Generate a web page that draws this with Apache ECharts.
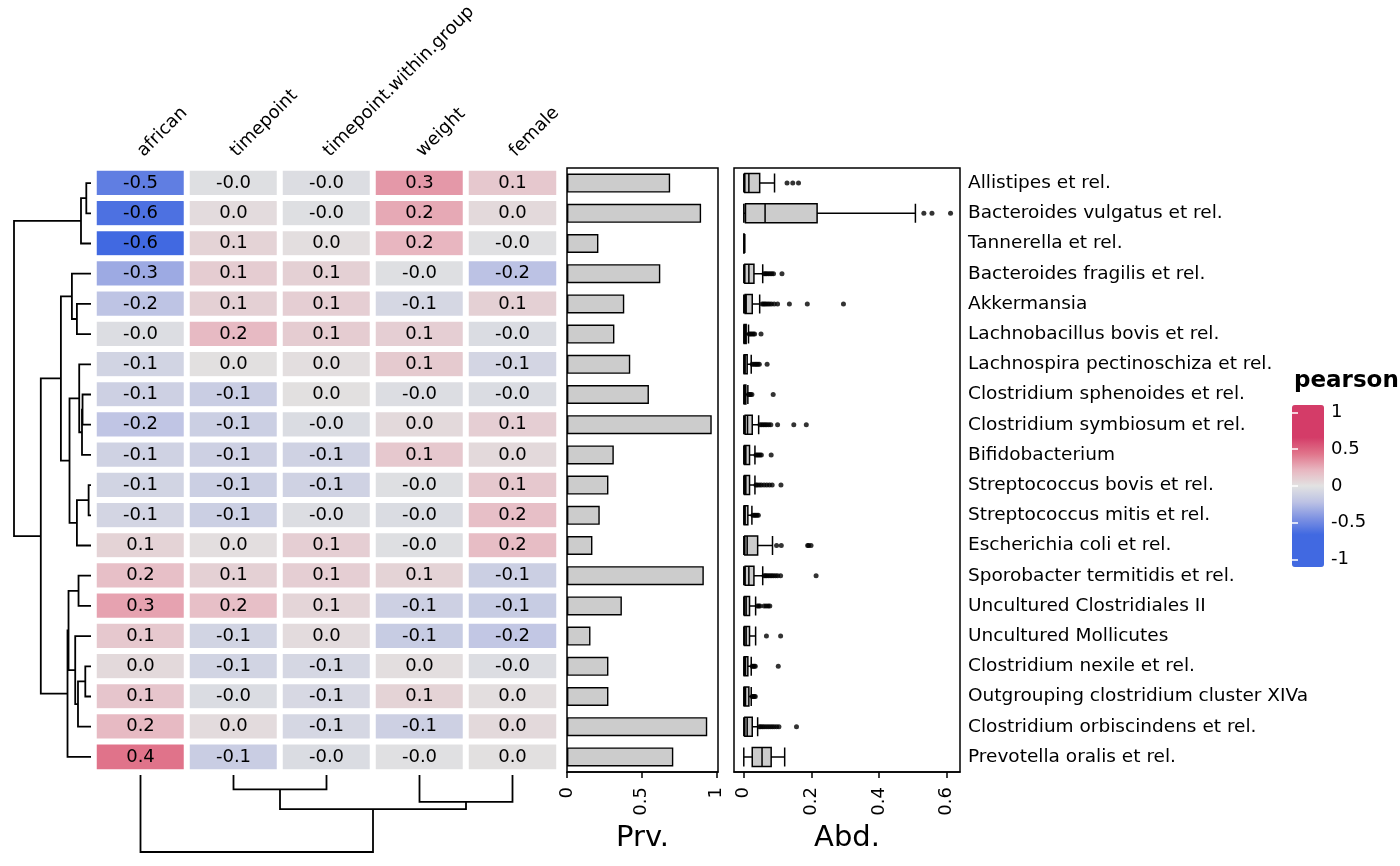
<!DOCTYPE html>
<html>
<head>
<meta charset="utf-8">
<script src="https://cdn.jsdelivr.net/npm/echarts@6/dist/echarts.min.js"></script>
<style>
html, body { margin: 0; padding: 0; background: #fff; }
#chart { width: 1400px; height: 866px; }
</style>
</head>
<body>
<div id="chart"></div>
<script>
const taxa = [
    'Allistipes et rel.', 'Bacteroides vulgatus et rel.', 'Tannerella et rel.',
    'Bacteroides fragilis et rel.', 'Akkermansia', 'Lachnobacillus bovis et rel.',
    'Lachnospira pectinoschiza et rel.', 'Clostridium sphenoides et rel.',
    'Clostridium symbiosum et rel.', 'Bifidobacterium', 'Streptococcus bovis et rel.',
    'Streptococcus mitis et rel.', 'Escherichia coli et rel.', 'Sporobacter termitidis et rel.',
    'Uncultured Clostridiales II', 'Uncultured Mollicutes', 'Clostridium nexile et rel.',
    'Outgrouping clostridium cluster XIVa', 'Clostridium orbiscindens et rel.', 'Prevotella oralis et rel.'
];
const variables = ['african', 'timepoint', 'timepoint.within.group', 'weight', 'female'];

// pearson correlations, one array per column (rows in display order)
const corAfrican   = [-0.50, -0.56, -0.62, -0.30, -0.19, -0.03, -0.09, -0.11, -0.18, -0.10, -0.09, -0.08, 0.07, 0.16, 0.26, 0.12, 0.04, 0.13, 0.18, 0.40];
const corTimepoint = [-0.02, 0.03, 0.07, 0.10, 0.08, 0.18, 0.01, -0.13, -0.12, -0.11, -0.12, -0.12, 0.02, 0.08, 0.16, -0.09, -0.09, -0.04, 0.03, -0.13];
const corTpWithin  = [-0.03, -0.02, 0.02, 0.08, 0.09, 0.10, 0.02, 0.01, -0.04, -0.10, -0.10, -0.03, 0.09, 0.09, 0.06, 0.03, -0.07, -0.06, -0.07, -0.04];
const corWeight    = [0.29, 0.24, 0.20, -0.02, -0.07, 0.09, 0.11, -0.03, 0.04, 0.12, -0.02, -0.04, -0.02, 0.07, -0.11, -0.14, 0.02, 0.07, -0.11, -0.01];
const corFemale    = [0.12, 0.04, -0.01, -0.20, 0.08, -0.04, -0.08, -0.04, 0.09, 0.04, 0.12, 0.16, 0.17, -0.12, -0.14, -0.17, -0.03, 0.02, 0.04, 0.01];

// prevalence
const prevalence = [0.69, 0.897, 0.21, 0.624, 0.383, 0.317, 0.423, 0.548, 0.968, 0.313,
    0.277, 0.219, 0.17, 0.915, 0.367, 0.157, 0.277, 0.277, 0.938, 0.711];

// abundance box statistics
const abdLow  = [0, 0, 0, 0, 0, 0, 0, 0, 0, 0, 0, 0, 0, 0, 0, 0, 0, 0, 0, 0];
const abdQ1   = [0.003, 0.005, 0, 0.003, 0.004, 0.001, 0.001, 0.001, 0.004, 0.002, 0.002, 0.001, 0.003, 0.004, 0.002, 0.002, 0.001, 0.001, 0.003, 0.025];
const abdMed  = [0.015, 0.063, 0.0005, 0.015, 0.007, 0.003, 0.004, 0.002, 0.011, 0.006, 0.006, 0.004, 0.010, 0.015, 0.007, 0.007, 0.005, 0.005, 0.010, 0.054];
const abdQ3   = [0.047, 0.217, 0.001, 0.030, 0.025, 0.007, 0.010, 0.006, 0.025, 0.017, 0.017, 0.012, 0.041, 0.030, 0.017, 0.017, 0.012, 0.015, 0.025, 0.081];
const abdHigh = [0.091, 0.508, 0.003, 0.056, 0.047, 0.014, 0.022, 0.012, 0.044, 0.033, 0.033, 0.024, 0.085, 0.056, 0.035, 0.035, 0.022, 0.022, 0.041, 0.121];
const abdOutliers = [
    [0.128, 0.145, 0.162],
    [0.533, 0.557, 0.612],
    [],
    [0.060, 0.064, 0.068, 0.073, 0.078, 0.083, 0.088, 0.113],
    [0.054, 0.058, 0.062, 0.066, 0.071, 0.076, 0.082, 0.090, 0.100, 0.135, 0.188, 0.295],
    [0.016, 0.020, 0.024, 0.028, 0.032, 0.051],
    [0.025, 0.030, 0.034, 0.038, 0.042, 0.046, 0.069],
    [0.014, 0.017, 0.020, 0.024, 0.087],
    [0.048, 0.053, 0.058, 0.063, 0.068, 0.074, 0.080, 0.100, 0.148, 0.185],
    [0.036, 0.040, 0.044, 0.048, 0.052, 0.081],
    [0.036, 0.040, 0.046, 0.052, 0.060, 0.068, 0.076, 0.084, 0.110],
    [0.027, 0.031, 0.035, 0.039, 0.043],
    [0.097, 0.111, 0.189, 0.192, 0.199],
    [0.060, 0.064, 0.068, 0.073, 0.078, 0.083, 0.088, 0.094, 0.100, 0.109, 0.214],
    [0.040, 0.044, 0.048, 0.060, 0.066, 0.072, 0.077],
    [0.067, 0.109],
    [0.025, 0.028, 0.031, 0.034, 0.102],
    [0.025, 0.028, 0.031, 0.034],
    [0.046, 0.050, 0.055, 0.060, 0.066, 0.072, 0.078, 0.084, 0.090, 0.097, 0.104, 0.156],
    []
];

// hierarchical clustering (hclust style: negative = leaf, positive = earlier merge)
const rowMerges = [[-1, -2], [1, -3], [-5, -6], [-4, 3], [-8, -9], [5, -10], [-7, 6], [-11, -12], [8, -13], [7, 9],
    [4, 10], [-14, -15], [-17, -18], [13, -19], [-16, 14], [12, 15], [16, -20], [11, 17], [2, 18]];
const rowHeights = [0.061, 0.130, 0.183, 0.248, 0.110, 0.117, 0.153, 0.031, 0.183, 0.279,
    0.391, 0.162, 0.074, 0.169, 0.205, 0.292, 0.305, 0.652, 1.0];
const colMerges = [[-2, -3], [-4, -5], [1, 2], [-1, 3]];
const colHeights = [0.186, 0.348, 0.443, 1.0];

const prvTicks = [0, 0.5, 1];
const abdTicks = [0, 0.2, 0.4, 0.6];
const legendTicks = [-1, -0.5, 0, 0.5, 1];

// colour stops for -1, -0.8, ..., 0.8, 1 (saturated beyond +-0.6)
const paletteStops = ['#4169e1', '#4169e1', '#4169e1', '#7e92e2', '#bcc2e4', '#e2e2e2',
    '#e8b6c0', '#e0738a', '#d43c68', '#d43c68', '#d43c68'];

const FONT = 'DejaVu Sans';

function buildHeatData() {
    const cols = [corAfrican, corTimepoint, corTpWithin, corWeight, corFemale];
    const out = [];
    cols.forEach((col, c) => col.forEach((v, r) => out.push([c, r, v])));
    return out;
}

function dendroSegments(merges, heights) {
    const pos = [], h = [], out = [];
    merges.forEach((m, i) => {
        const p = m.map(c => c < 0 ? -c - 1 : pos[c - 1]);
        const ch = m.map(c => c < 0 ? 0 : h[c - 1]);
        pos[i] = (p[0] + p[1]) / 2;
        h[i] = heights[i];
        out.push([heights[i], pos[i], ch[0], p[0], ch[1], p[1]]);
    });
    return out;
}

function dendroItem(vertical) {
    return function (params, api) {
        const h = api.value(0), hA = api.value(2), pA = api.value(3), hB = api.value(4), pB = api.value(5);
        const pt = (height, p) => vertical ? api.coord([p, height]) : api.coord([height, p]);
        return {
            type: 'polyline',
            shape: { points: [pt(hA, pA), pt(h, pA), pt(h, pB), pt(hB, pB)] },
            style: { stroke: '#000', lineWidth: 1.8, fill: null }
        };
    };
}

const boxData = taxa.map((t, i) => [abdLow[i], abdQ1[i], abdMed[i], abdQ3[i], abdHigh[i]]);
const outlierData = [];
abdOutliers.forEach((arr, i) => arr.forEach(v => outlierData.push([v, i])));

const tickLabel = { color: '#000', fontSize: 18, fontFamily: FONT };

const chart = echarts.init(document.getElementById('chart'));

const option = {
    animation: false,
    backgroundColor: '#fff',
    textStyle: { fontFamily: FONT },
    title: {
        text: 'pearson', left: 1294, top: 370, padding: 0,
        textStyle: { fontSize: 23, fontWeight: 'bold', color: '#000', fontFamily: FONT }
    },
    grid: [
        { left: 94, top: 168, width: 465, height: 604 },                 // heatmap
        { left: 14, top: 168, width: 77, height: 604 },                  // row dendrogram
        { left: 94, top: 775, width: 465, height: 77 },                  // column dendrogram
        { left: 567, top: 168, width: 151, height: 604, show: true, borderColor: '#000', borderWidth: 1.5 },
        { left: 734, top: 168, width: 226, height: 604, show: true, borderColor: '#000', borderWidth: 1.5 },
        { left: 1292, top: 405, width: 32, height: 162 }                 // legend ticks
    ],
    xAxis: [
        {
            gridIndex: 0, type: 'category', data: variables, position: 'top',
            axisLine: { show: false }, axisTick: { show: false },
            axisLabel: { interval: 0, rotate: -45, align: 'left', verticalAlign: 'middle', margin: 14, ...tickLabel }
        },
        { gridIndex: 1, type: 'value', min: 0, max: 1, inverse: true, show: false },
        { gridIndex: 2, type: 'value', min: -0.5, max: 4.5, show: false },
        {
            gridIndex: 3, type: 'value', min: 0, max: 1.01,
            name: 'Prv.', nameLocation: 'middle', nameGap: 49,
            nameTextStyle: { fontSize: 29, color: '#000', fontFamily: FONT },
            splitLine: { show: false },
            axisLine: { show: true, lineStyle: { color: '#000', width: 1.5 } },
            axisTick: { show: true, length: 6, customValues: prvTicks, lineStyle: { color: '#000', width: 1.5 } },
            axisLabel: { rotate: 90, margin: 15, customValues: prvTicks, formatter: v => String(v), ...tickLabel }
        },
        {
            gridIndex: 4, type: 'value', min: -0.029, max: 0.640,
            name: 'Abd.', nameLocation: 'middle', nameGap: 49,
            nameTextStyle: { fontSize: 29, color: '#000', fontFamily: FONT },
            splitLine: { show: false },
            axisLine: { show: true, lineStyle: { color: '#000', width: 1.5 } },
            axisTick: { show: true, length: 6, customValues: abdTicks, lineStyle: { color: '#000', width: 1.5 } },
            axisLabel: { rotate: 90, margin: 15, customValues: abdTicks, formatter: v => String(v), ...tickLabel }
        },
        { gridIndex: 5, type: 'value', min: 0, max: 1, show: false }
    ],
    yAxis: [
        { gridIndex: 0, type: 'category', data: taxa, inverse: true, show: false },
        { gridIndex: 1, type: 'value', min: -0.5, max: 19.5, inverse: true, show: false },
        { gridIndex: 2, type: 'value', min: 0, max: 1, inverse: true, show: false },
        { gridIndex: 3, type: 'category', data: taxa, inverse: true, show: false },
        {
            gridIndex: 4, type: 'category', data: taxa, inverse: true, position: 'right',
            axisLine: { show: false }, axisTick: { show: false },
            axisLabel: { interval: 0, margin: 8, ...tickLabel, fontSize: 18.5 }
        },
        {
            gridIndex: 5, type: 'value', min: -1.1, max: 1.1, position: 'right', z: 10,
            splitLine: { show: false }, axisLine: { show: false },
            axisTick: { show: true, inside: true, length: 6, customValues: legendTicks, lineStyle: { color: '#fff', width: 1.5 } },
            axisLabel: { margin: 7, customValues: legendTicks, formatter: v => String(v), ...tickLabel }
        },
        {
            gridIndex: 5, type: 'value', min: -1.1, max: 1.1, position: 'left', z: 10,
            splitLine: { show: false }, axisLine: { show: false }, axisLabel: { show: false },
            axisTick: { show: true, inside: true, length: 6, customValues: legendTicks, lineStyle: { color: '#fff', width: 1.5 } }
        }
    ],
    visualMap: {
        type: 'continuous', seriesIndex: 0, min: -1, max: 1,
        left: 1292, top: 405, itemWidth: 32, itemHeight: 162, padding: 0,
        calculable: false, hoverLink: false, text: null,
        inRange: { color: paletteStops }
    },
    series: [
        {
            type: 'heatmap', xAxisIndex: 0, yAxisIndex: 0, data: buildHeatData(),
            itemStyle: { borderColor: '#fff', borderWidth: 6 },
            label: {
                show: true, color: '#000', fontSize: 18, fontFamily: FONT,
                formatter: p => p.value[2].toFixed(1)
            }
        },
        {
            type: 'custom', xAxisIndex: 1, yAxisIndex: 1,
            data: dendroSegments(rowMerges, rowHeights), encode: { x: 0, y: 1 },
            renderItem: dendroItem(false)
        },
        {
            type: 'custom', xAxisIndex: 2, yAxisIndex: 2,
            data: dendroSegments(colMerges, colHeights), encode: { x: 1, y: 0 },
            renderItem: dendroItem(true)
        },
        {
            type: 'bar', xAxisIndex: 3, yAxisIndex: 3, data: prevalence, barWidth: 19,
            itemStyle: { color: '#cccccc', borderColor: '#000', borderWidth: 1.4 }
        },
        {
            type: 'boxplot', xAxisIndex: 4, yAxisIndex: 4, layout: 'horizontal', data: boxData,
            boxWidth: [19, 19],
            itemStyle: { color: '#cccccc', borderColor: '#000', borderWidth: 1.5 }
        },
        {
            type: 'scatter', xAxisIndex: 4, yAxisIndex: 4, data: outlierData,
            symbolSize: 5, itemStyle: { color: '#000' }
        },
        { type: 'scatter', xAxisIndex: 5, yAxisIndex: 5, data: [] }
    ]
};

chart.setOption(option);
</script>
</body>
</html>
